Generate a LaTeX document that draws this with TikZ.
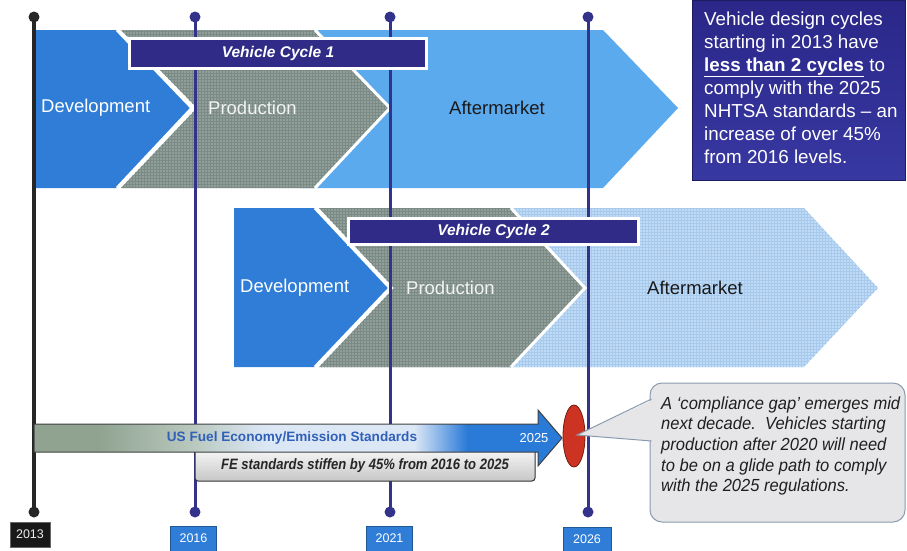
\documentclass[tikz,border=0pt]{standalone}
\usepackage{fontspec}
\setmainfont{Liberation Sans}
\newfontfamily\narrowfont[FakeStretch=0.945]{Liberation Sans}
\newfontfamily\fefont[FakeStretch=0.87]{Liberation Sans}
\usetikzlibrary{patterns,shapes.geometric}
\definecolor{devblue}{HTML}{2F7DD6}
\definecolor{prodgray}{HTML}{909F99}
\definecolor{prodgrid}{HTML}{7B8A85}
\definecolor{aftone}{HTML}{5CAAEE}
\definecolor{afttwo}{HTML}{BFDBF5}
\definecolor{afttwogrid}{HTML}{A6C9EC}
\definecolor{navy}{HTML}{33338C}
\definecolor{barnavy}{HTML}{2F2B86}
\definecolor{infotop}{HTML}{2A2788}
\definecolor{infobot}{HTML}{3838A2}
\definecolor{fgreen}{HTML}{8FA390}
\definecolor{fgreentwo}{HTML}{B9C8BE}
\definecolor{flight}{HTML}{DCE7F6}
\definecolor{fblue}{HTML}{2A7BD8}
\definecolor{fetext}{HTML}{3060B8}
\definecolor{gapred}{HTML}{CC3322}
\definecolor{gapdark}{HTML}{7A1A10}
\definecolor{callfill}{HTML}{E6E6E8}
\definecolor{callborder}{HTML}{8A9AAE}
\definecolor{yearblue}{HTML}{2F7DD6}
\pgfdeclarehorizontalshading{fuelshade}{100bp}{color(0bp)=(fgreen); color(25bp)=(fgreen); color(31bp)=(fgreen); color(40bp)=(fgreentwo); color(47bp)=(flight); color(61bp)=(flight); color(66bp)=(fblue); color(100bp)=(fblue)}
\tikzset{
  bandtext/.style={anchor=west, inner sep=0pt, font=\fontsize{18.5}{22}\selectfont},
  cyclebar/.style={draw=white, line width=3pt, fill=barnavy, text=white,
     font=\fontsize{15.5}{18}\selectfont\bfseries\itshape, inner sep=0pt},
  vline/.style={draw=navy, line width=3pt},
  vdot/.style={fill=navy},
  yearbox/.style={fill=yearblue, draw=yearblue!70!black, line width=0.6pt, text=white,
     minimum width=46pt, minimum height=25pt, inner sep=0pt, font=\fontsize{12.5}{14}\selectfont},
  whitecut/.style={draw=white, line width=3pt, line join=miter}
}
\begin{document}
\begin{tikzpicture}[x=1pt,y=-1pt]
\useasboundingbox (0,0) rectangle (907,550);
% ---------- cycle 1 ----------
\fill[aftone] (300,30) -- (603,30) -- (678,108) -- (603,188) -- (300,188) -- cycle;
\fill[prodgray] (121,30) -- (315,30) -- (390,108) -- (315,188) -- (121,188) -- (197,108) -- cycle;
\fill[pattern=grid, pattern color=prodgrid] (121,30) -- (315,30) -- (390,108) -- (315,188) -- (121,188) -- (197,108) -- cycle;
\draw[whitecut] (315,30) -- (390,108) -- (315,188);
\fill[devblue] (36,30) -- (117,30) -- (192,108) -- (117,188) -- (36,188) -- cycle;
\draw[whitecut] (117,30) -- (192,108) -- (117,188);
% ---------- cycle 2 ----------
\fill[afttwo] (500,208) -- (804,208) -- (878,288) -- (804,367) -- (500,367) -- cycle;
\fill[pattern=grid, pattern color=afttwogrid] (500,208) -- (804,208) -- (878,288) -- (804,367) -- (500,367) -- cycle;
\fill[prodgray] (319,208) -- (511,208) -- (585,288) -- (511,367) -- (319,367) -- (394,288) -- cycle;
\fill[pattern=grid, pattern color=prodgrid] (319,208) -- (511,208) -- (585,288) -- (511,367) -- (319,367) -- (394,288) -- cycle;
\draw[whitecut] (511,208) -- (585,288) -- (511,367);
\fill[devblue] (234,208) -- (315,208) -- (390,288) -- (315,367) -- (234,367) -- cycle;
\draw[whitecut] (315,208) -- (390,288) -- (315,367);
% ---------- band texts ----------
\node[bandtext, text=white] (dev1) at (41,108) {Development};
\node[bandtext, text=white!90!gray] (prod1) at (208,108) {Production};
\node[bandtext, text=black!90] (aft1) at (449,108) {Aftermarket};
\node[bandtext, text=white] (dev2) at (240,288) {Development};
\node[bandtext, text=white!90!gray] (prod2) at (406,288) {Production};
\node[bandtext, text=black!90] (aft2) at (647,288) {Aftermarket};
% ---------- vertical year lines ----------
\coordinate (t13) at (34,17);  \coordinate (b13) at (34,512);
\coordinate (t16) at (195,17); \coordinate (b16) at (195,512);
\coordinate (t21) at (390,17); \coordinate (b21) at (390,512);
\coordinate (t26) at (588,17); \coordinate (b26) at (588,512);
\draw[line width=3.5pt, draw=black!85] (t13) -- (b13);
\fill[black!85] (t13) circle (5.5) (b13) circle (5.5);
\foreach \c in {16,21,26}{
  \draw[vline] (t\c) -- (b\c);
  \fill[vdot] (t\c) circle (5.5) (b\c) circle (5.5);
}
% ---------- vehicle cycle bars ----------
\node[cyclebar, minimum width=297pt, minimum height=30pt] (vc1) at (278,53.5) {Vehicle Cycle 1};
\node[cyclebar, minimum width=290pt, minimum height=26pt] (vc2) at (493.5,231.5) {Vehicle Cycle 2};
% ---------- info box ----------
\shade[top color=infotop, bottom color=infobot, draw=infotop!70!black, line width=0.6pt] (692,0) rectangle (905,180);
\node[anchor=north west, inner sep=0pt, align=left, text=white,
  font=\fontsize{18.8}{23}\selectfont] (info) at (704,11.5)
  {Vehicle design cycles\\starting in 2013 have\\\underline{\textbf{less than 2 cycles}} to\\comply with the 2025\\NHTSA standards -- an\\increase of over 45\%\\from 2016 levels.};
% ---------- fuel economy arrow ----------
\shade[top color=white!95!gray, bottom color=black!22, draw=black!80, line width=1pt, rounded corners=3pt]
  (195,448) rectangle (535,481);
\node[font=\fefont\fontsize{15}{18}\selectfont\bfseries\itshape, text=black!85] (fe) at (365,466)
  {FE standards stiffen by 45\% from 2016 to 2025};
\shade[shading=fuelshade, draw=black!75, line width=1pt]
  (34,424) -- (538,424) -- (538,410) -- (562,438) -- (538,466) -- (538,452) -- (34,452) -- cycle;
\node[font=\fontsize{13.6}{16}\selectfont\bfseries, text=fetext] (us) at (292,438) {US Fuel Economy/Emission Standards};
\node[font=\fontsize{13}{16}\selectfont, text=white] (y25) at (534,438) {2025};
% ---------- compliance gap ----------
\node[ellipse, minimum width=22pt, minimum height=62pt, inner sep=0pt, fill=gapred, draw=gapdark, line width=0.8pt] (gap) at (574,436) {};
\node[rectangle, rounded corners=12pt, fill=callfill, draw=callborder, line width=1pt,
  minimum width=255pt, minimum height=139pt] (cg) at (777.5,452.5) {};
\coordinate (pa) at (577,435);
\coordinate (pb1) at (651.5,399);
\coordinate (pb2) at (651.5,441);
\fill[callfill] ([xshift=3pt]pb1) -- (pa) -- ([xshift=3pt]pb2) -- cycle;
\draw[callborder, line width=1pt] (pb1) -- (pa) -- (pb2);
\node[anchor=west, inner sep=0pt, align=left, text=black!88,
  font=\narrowfont\fontsize{17.5}{20.7}\selectfont\itshape] (cgtext) at (661,446)
  {A ‘compliance gap’ emerges mid\\next decade.\ \ Vehicles starting\\production after 2020 will need\\to be on a glide path to comply\\with the 2025 regulations.};
% ---------- year labels ----------
\node[yearbox, fill=black!90, draw=black!60, text=white!85!gray, minimum width=40pt] (l13) at (30,534.5) {2013};
\node[yearbox] (l16) at (193.5,538.5) {2016};
\node[yearbox] (l21) at (389.5,538.5) {2021};
\node[yearbox, minimum width=48pt] (l26) at (587,539.5) {2026};
\end{tikzpicture}
\end{document}
